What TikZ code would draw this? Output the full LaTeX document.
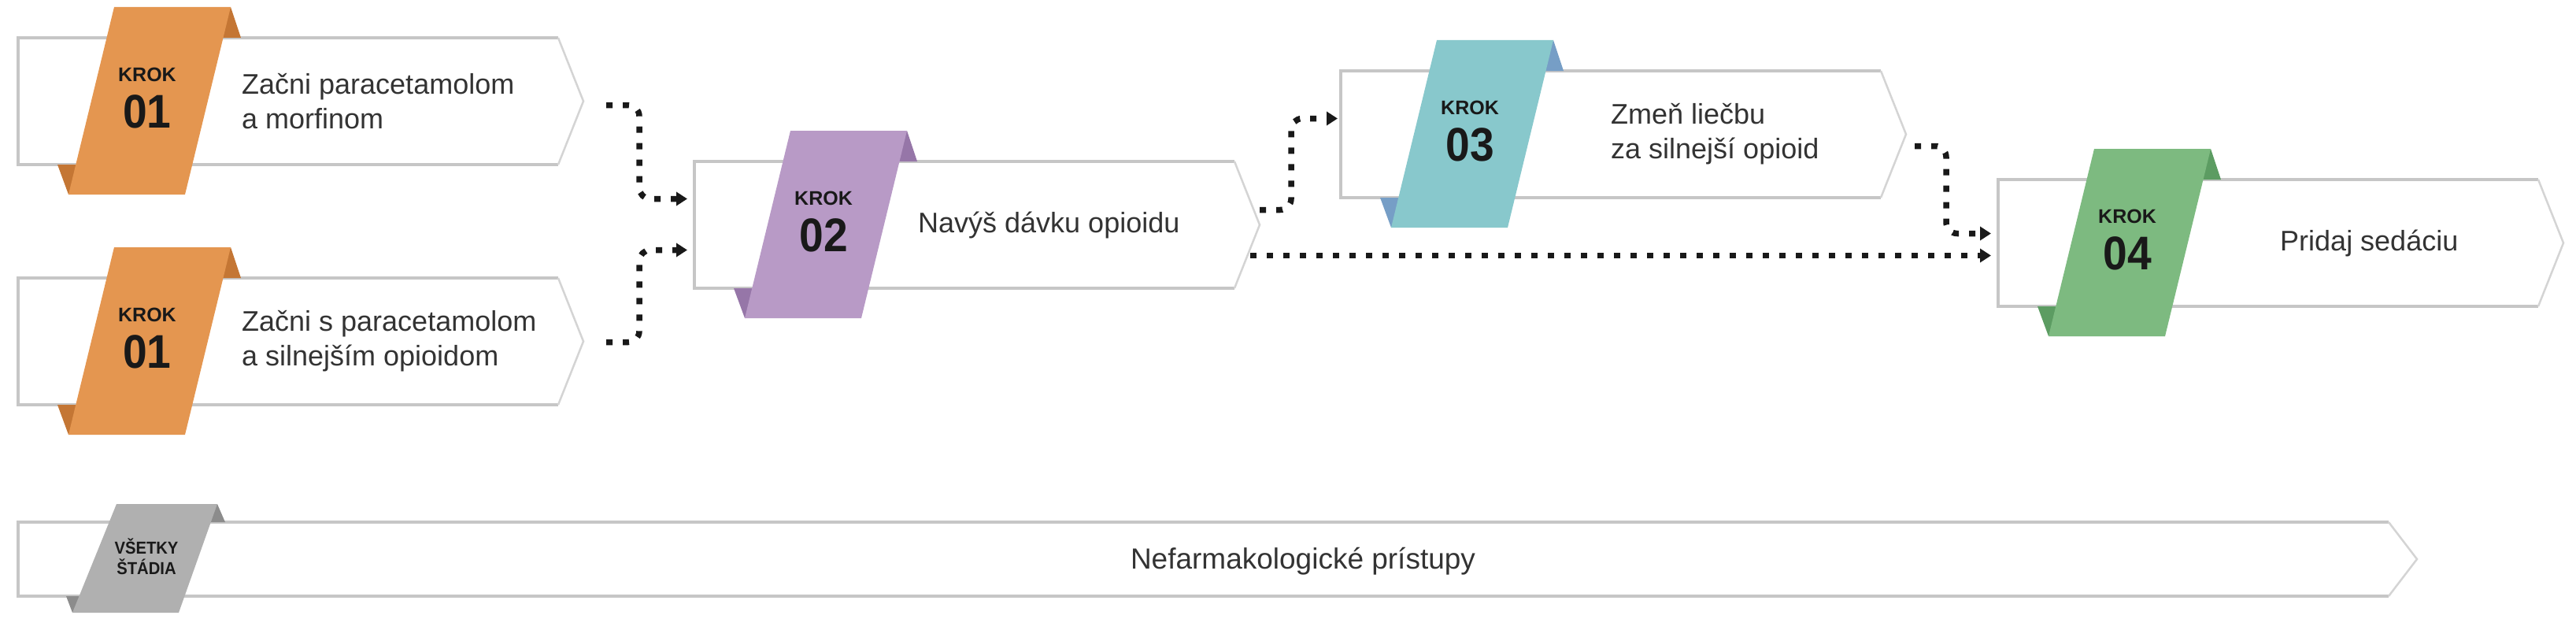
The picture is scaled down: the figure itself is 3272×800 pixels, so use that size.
\documentclass[tikz,border=0pt]{standalone}
\usepackage{fontspec}
\setmainfont{Liberation Sans}
\newfontfamily\numfont[FakeStretch=0.92]{Liberation Sans}
\usetikzlibrary{calc,arrows.meta}

\definecolor{boxgray}{RGB}{198,198,198}
\definecolor{tipgray}{RGB}{212,212,212}
\definecolor{krokorange}{RGB}{228,150,80}
\definecolor{foldorange}{RGB}{196,118,52}
\definecolor{krokpurple}{RGB}{184,154,198}
\definecolor{foldpurple}{RGB}{150,118,168}
\definecolor{krokteal}{RGB}{136,200,204}
\definecolor{foldteal}{RGB}{118,158,198}
\definecolor{krokgreen}{RGB}{125,186,128}
\definecolor{foldgreen}{RGB}{92,156,98}
\definecolor{krokgray}{RGB}{176,176,176}
\definecolor{foldgray}{RGB}{140,140,140}

% box: name, top-left, ribbon, fold, number, text, text offset
\newcommand{\krokbox}[7]{%
  \node[stepframe, anchor=north west] (#1) at (#2) {};
  \draw[boxedge] (#1.north east) -- (#1.north west) -- (#1.south west) -- (#1.south east);
  \draw[boxtip] (#1.north east) -- ($(#1.east)+(32,0)$) -- (#1.south east);
  \fill[#4] ($(#1.north west)+(270,-39)$) -- ($(#1.north west)+(283,0)$) -- ($(#1.north west)+(255,0)$) -- cycle;
  \fill[#4] ($(#1.south west)+(50,0)$) -- ($(#1.south west)+(64,38)$) -- ($(#1.south west)+(80,0)$) -- cycle;
  \fill[#3] ($(#1.north west)+(122,-39)$) -- ($(#1.north west)+(270,-39)$) -- ($(#1.south west)+(212,38)$) -- ($(#1.south west)+(64,38)$) -- cycle;
  \node[kroklabel] (#1k) at ($(#1.west)+(164,-34)$) {KROK};
  \node[kroknum] (#1n) at ($(#1.west)+(164,13)$) {#5};
  \node[steptext] (#1t) at ($(#1.west)+(#7,0)$) {#6};
}

\begin{document}
\begin{tikzpicture}[x=1pt, y=-1pt,
  stepframe/.style={minimum width=686pt, minimum height=161pt, inner sep=0pt, outer sep=0pt},
  boxedge/.style={draw=boxgray, line width=4pt},
  boxtip/.style={draw=tipgray, line width=2.5pt},
  kroklabel/.style={inner sep=0pt, text=black!90, font=\bfseries\fontsize{25}{25}\selectfont},
  kroknum/.style={inner sep=0pt, text=black!90, font=\numfont\bfseries\fontsize{60}{60}\selectfont},
  steptext/.style={anchor=west, align=left, inner sep=0pt, text=black!80, font=\fontsize{36}{44}\selectfont},
  conn/.style={draw=black!90, line width=7.5pt, dash pattern=on 8pt off 13pt, rounded corners=14pt, -{Triangle[length=14pt,width=17pt]}}]
  \useasboundingbox (0,0) rectangle (3272,800);
  \fill[white] (0,0) rectangle (3272,800);

  % 1. steps
  \krokbox{krok1a}{23,48}{krokorange}{foldorange}{01}{Začni paracetamolom\\a morfinom}{284}
  \krokbox{krok1b}{23,353}{krokorange}{foldorange}{01}{Začni s paracetamolom\\a silnejším opioidom}{284}
  \krokbox{krok2}{882,205}{krokpurple}{foldpurple}{02}{Navýš dávku opioidu}{284}
  \krokbox{krok3}{1703,90}{krokteal}{foldteal}{03}{Zmeň liečbu\\za silnejší opioid}{343}
  \krokbox{krok4}{2538,228}{krokgreen}{foldgreen}{04}{Pridaj sedáciu}{358}

  % 2. all stages
  \node[stepframe, minimum width=3011pt, minimum height=94pt, anchor=north west] (vsetky) at (23,663) {};
  \draw[boxedge] (vsetky.north east) -- (vsetky.north west) -- (vsetky.south west) -- (vsetky.south east);
  \draw[boxtip] (vsetky.north east) -- ($(vsetky.east)+(36,0)$) -- (vsetky.south east);
  \fill[foldgray] ($(vsetky.north west)+(253,-23)$) -- ($(vsetky.north west)+(263,0)$) -- ($(vsetky.north west)+(238,0)$) -- cycle;
  \fill[foldgray] ($(vsetky.south west)+(61,0)$) -- ($(vsetky.south west)+(69,21)$) -- ($(vsetky.south west)+(85,0)$) -- cycle;
  \fill[krokgray] ($(vsetky.north west)+(125,-23)$) -- ($(vsetky.north west)+(253,-23)$) -- ($(vsetky.south west)+(204,21)$) -- ($(vsetky.south west)+(69,21)$) -- cycle;
  \node[inner sep=0pt, align=center, text=black!90, font=\numfont\bfseries\fontsize{22}{26}\selectfont] (vsetkyk) at ($(vsetky.west)+(163,-3)$) {VŠETKY\\ŠTÁDIA};
  \node[steptext, anchor=center, font=\fontsize{37}{44}\selectfont] (vsetkyt) at ($(vsetky.west)+(1632,3)$) {Nefarmakologické prístupy};

  % 3. connectors
  \draw[conn] ($(krok1a.east)+(61,5)$) -- ++(42,0) |- ($(krok2.west)+(-9,-33)$);
  \draw[conn] ($(krok1b.east)+(61,1)$) -- ++(42,0) |- ($(krok2.west)+(-9,32)$);
  \draw[conn] ($(krok2.east)+(32,-19)$) -- ++(40,0) |- ($(krok3.west)+(-4,-20)$);
  \draw[conn] ($(krok2.east)+(20,39)$) -- ($(krok4.west)+(-9,16)$);
  \draw[conn] ($(krok3.east)+(43,15)$) -- ++(40,0) |- ($(krok4.west)+(-9,-12)$);
\end{tikzpicture}
\end{document}
